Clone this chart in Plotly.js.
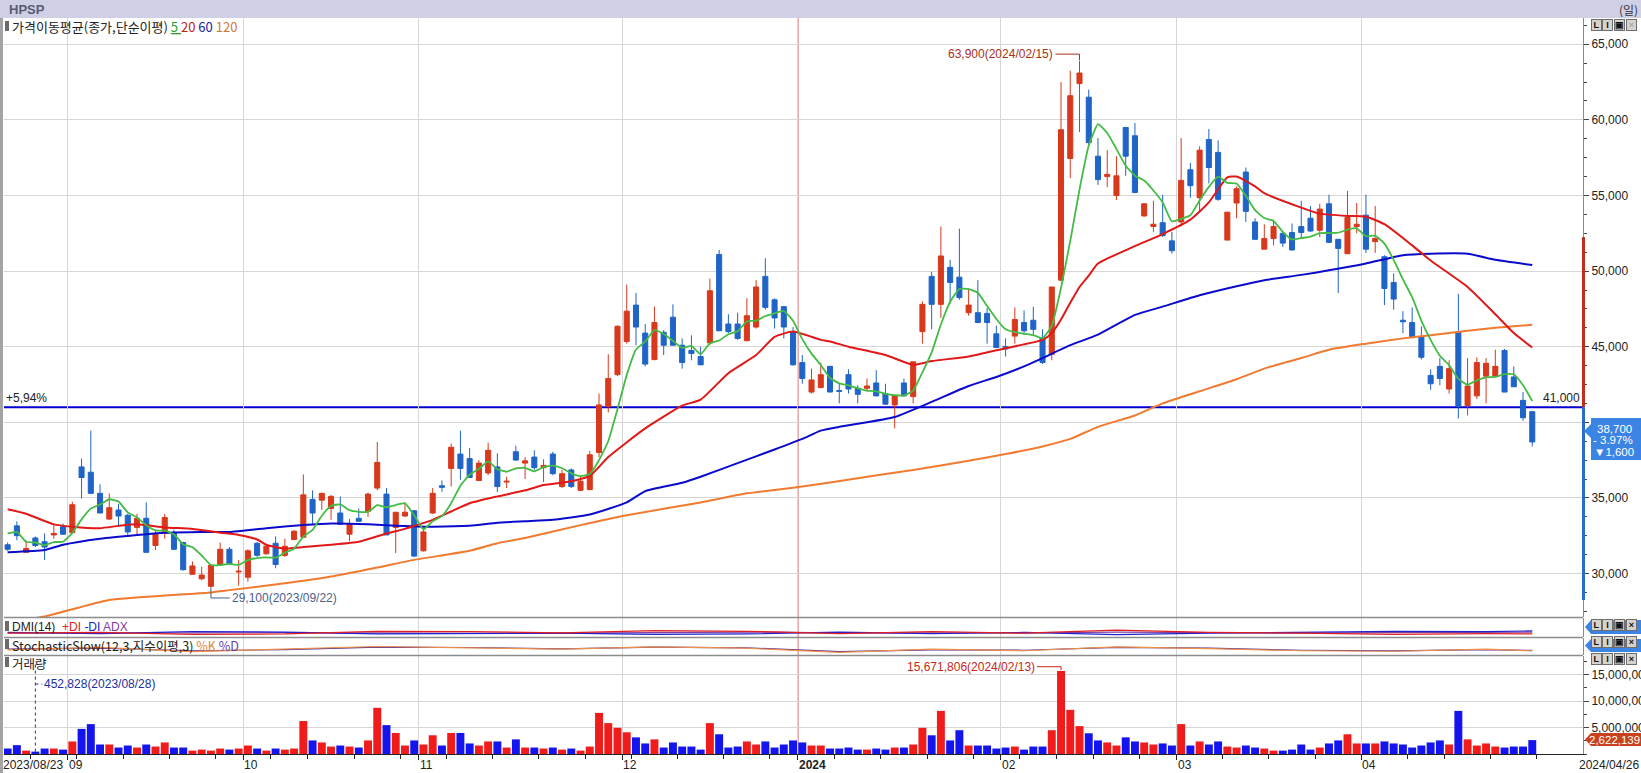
<!DOCTYPE html>
<html><head><meta charset="utf-8">
<script src="https://cdn.plot.ly/plotly-3.0.1.min.js"></script>
<style>html,body{margin:0;padding:0;background:#fff;overflow:hidden}#chart{width:1641px;height:773px}</style>
</head><body><div id="chart"></div>
<script>
// ---------------- DATA ----------------
const stockName = "HPSP";
const firstDate = "2023/08/23";
const lastDate = "2024/04/26";
const monthDays = [7,19,19,22,19,22,19,20,19];            // trading days per month (Aug..Apr)
const monthLabels = ["09","10","11","12","2024","02","03","04"];
const weekStarts = [3,8,13,18,23,26,29,33,38,43,48,53,58,63,68,73,78,83,86,90,95,100,105,110,114,118,123,127,132,137,142,147,152,156,161,166];

const open = [31900,33150,31400,32350,32100,32550,33100,32700,37050,36700,
35300,33600,34200,33850,33050,33650,31850,32650,32700,32050,
29950,29650,29150,30600,31600,30100,29750,32000,31300,32000,
31200,32250,32400,34900,34850,34300,34000,32600,33650,34100,
35650,35250,33050,33800,34150,31500,34000,35800,36950,37900,
37600,36150,36650,37050,36050,38050,37300,37700,37000,37900,
35750,36850,35500,35550,38000,41050,43150,45350,47750,45900,
44150,45950,46950,45100,44750,44350,45250,51100,46500,46500,
45400,46300,49650,48100,47650,46000,43950,42000,42300,43700,
42100,43150,42250,42250,42600,41900,41150,42600,41700,46000,
49650,47800,50250,49600,47250,47250,47200,45850,45000,45700,
46600,46750,45600,44500,49400,57450,62400,61500,57600,56250,
55000,59500,58950,53650,52950,53200,52000,53250,56700,54850,
58700,57850,52050,54500,56550,53250,51450,52150,52500,52550,
52950,53500,52700,54450,52100,51150,52950,53700,51950,50950,
49250,46750,46600,45650,43100,43700,42200,46000,41100,41750,
43050,43050,44750,43000,41450,40700];
const high = [32050,33450,32200,32450,32650,33200,33300,34750,37600,39450,
35900,35300,34600,33950,33950,34700,32900,33950,32900,32100,
30800,30450,30550,32050,31750,30900,31600,32100,31900,32450,
32300,32850,36550,35500,35350,35200,35100,33600,34300,35350,
38700,35650,34050,34650,34200,33000,35650,36150,38600,39450,
38300,37500,38650,37950,36400,38450,37700,38150,37550,38050,
36850,36950,36400,38100,41900,44500,46400,49100,48550,46500,
47650,46100,47800,45550,45750,45000,49500,51400,47150,47250,
48200,49400,50850,48200,47700,46300,44450,43550,43950,43700,
42600,43500,42450,42900,43450,42550,41750,42900,44000,48000,
49950,52950,50750,52800,48850,49400,47550,46400,45550,47600,
47400,47650,46150,48950,62500,63250,63900,62000,58800,58000,
57600,59500,59800,54450,54650,55050,52600,58800,57150,58250,
59400,58650,53900,55600,56850,53500,53100,53400,52600,53150,
54650,54300,54450,55050,52100,55300,54500,55050,54300,51050,
49850,47350,47600,46350,43500,44250,44100,48500,44250,44300,
44250,44800,44850,43700,42000,40700];
const low = [31500,32200,31400,31750,30900,32300,32550,32650,34950,35300,
34000,33550,33100,32550,32550,31400,31550,32300,31550,30200,
29900,29550,29100,30550,30550,29200,29450,31100,31250,30350,
31100,32200,32400,33200,34200,33550,33250,32150,33450,33750,
35500,32550,31350,33750,31100,31450,33950,35400,35750,36200,
36350,36150,36500,35400,35650,37450,36250,36850,36050,36500,
35650,35650,35450,35500,37700,40650,43050,45200,45100,43700,
44100,44450,45100,43550,44100,43800,45100,46050,45900,45450,
45350,46200,47450,46200,45550,43750,42550,41900,42250,42000,
41250,41900,41250,42050,41700,41150,39600,41700,41250,45200,
46150,46900,47850,48100,47050,46550,45200,44900,44350,45200,
45800,45800,43850,44100,49350,56150,59200,58350,55700,55550,
54700,56300,55150,53600,52600,52250,51150,52950,54850,53950,
55800,54650,52050,53500,53250,52100,51450,51700,51600,51350,
52150,52600,52250,51850,48550,51150,52500,51200,51200,47750,
47450,45900,45600,44150,42150,42450,41900,40250,40450,41550,
41250,43050,42000,42350,40100,38400];
const close = [31600,32500,31650,31850,31750,32650,32600,34550,36350,35300,
34000,34350,33800,32750,33650,31400,32650,33700,31600,30250,
30500,29900,30550,31600,30650,30150,31500,31200,31800,30600,
31800,32800,35200,34000,35300,35100,33250,33300,33450,35250,
37350,32550,34050,34050,31150,32750,35300,35700,38350,36950,
36350,37300,38150,35750,36100,37500,37450,37000,37150,36600,
36600,35750,36100,37850,41150,42900,46350,47350,46300,43850,
46600,45100,45100,43950,44550,43800,48700,46050,46000,45550,
47050,48950,47600,46900,46300,43800,42900,42800,43150,42000,
42050,42200,41850,42400,41750,41200,41750,41750,44000,47800,
47800,51000,49250,48250,47750,46600,46600,44950,44850,46800,
46050,46150,43950,48950,59350,61600,63100,58500,56050,56400,
56300,57600,55200,54450,53100,52350,51350,56000,55650,58000,
56850,54750,53900,55450,53950,52100,52150,52950,51850,51400,
52550,52650,54100,51900,51500,53550,53100,51450,52150,48850,
48150,46650,45600,44300,42550,42900,43550,41050,42400,43950,
43900,43700,42000,42350,40300,38700];
const volume = [1030000,1670000,640000,452828,1030000,1030000,830000,2370000,4740000,5640000,
1790000,1790000,1220000,1600000,1220000,1790000,1410000,2180000,1220000,1220000,
640000,830000,640000,1030000,830000,1030000,1600000,1030000,640000,1030000,
830000,1030000,6220000,2560000,2180000,1410000,1600000,1410000,1220000,2560000,
8720000,5450000,3970000,1600000,2560000,1790000,3530000,1600000,3970000,3970000,
1990000,1600000,2370000,2370000,1220000,2760000,1220000,1220000,1030000,1220000,
830000,1030000,640000,1410000,7760000,5830000,4940000,4100000,3140000,1990000,
2760000,1220000,2180000,1410000,1410000,830000,5830000,3720000,1220000,1410000,
2370000,1790000,2370000,1220000,1790000,2560000,2180000,1600000,1600000,1030000,
1030000,1220000,830000,830000,1030000,830000,1220000,1220000,1790000,4940000,
3530000,8140000,2560000,4490000,1600000,1600000,1600000,1030000,1220000,1410000,
830000,1410000,1410000,4490000,15671806,8330000,5260000,3910000,2560000,2180000,
1600000,3140000,2370000,2180000,1790000,1990000,1600000,5640000,1600000,2370000,
1790000,2370000,1410000,1220000,1600000,1220000,1030000,640000,640000,830000,
1790000,830000,1220000,1990000,2560000,3720000,1990000,1990000,1990000,2370000,
1990000,1790000,1220000,1600000,2180000,2560000,1790000,8140000,2760000,1600000,
1990000,1410000,1220000,1410000,1410000,2622139];

const ma5Head = [32650,32750,32100,32050];
const ma20Idx = [0,2,5,7,10,12,14,17,20,23,25,27,28,30,33,35,38,41,43,44,46,48,50,53,56,58,61,63,65,69,73,75,78,81,83,85,88,89,91,95,98,100,104,108,112,113,114,115,116,117,118,122,125,128,130,132,133,135,136,140,142,145,147,149,152,154,158,161,163,165];
const ma20Val = [34250,33950,33250,33100,33000,33150,33250,33050,32950,32700,32550,32250,31900,31650,31800,31900,32100,32650,32950,33150,33550,34100,34650,35100,35500,35850,36100,36450,37700,39600,41100,41500,43250,44450,45650,46000,45450,45350,45000,44450,43800,44050,44350,44900,45450,45900,46800,47900,48950,49700,50500,51650,52450,53400,54550,56200,56250,55600,55150,54200,53800,53650,53600,53100,51700,50700,48950,47150,45900,44950];
const ma60Idx = [0,4,6,10,14,17,21,24,28,32,35,39,42,45,50,53,56,59,63,67,69,73,75,79,83,86,88,90,93,96,100,104,107,110,112,115,118,122,125,129,133,136,140,143,147,151,154,158,161,165];
const ma60Val = [31400,31550,31900,32300,32550,32700,32750,32750,33000,33200,33300,33250,33150,33100,33150,33350,33450,33550,33900,34700,35450,36000,36400,37300,38200,38900,39450,39700,40000,40350,41350,42400,43000,43700,44250,45100,45800,47100,47650,48400,49000,49400,49750,50050,50500,51050,51150,51150,50750,50400];
const ma120Idx = [0,4,11,22,24,30,35,40,44,50,53,56,62,67,75,80,86,92,98,104,108,112,115,118,122,125,129,133,136,140,143,147,151,154,158,161,165];
const ma120Val = [26800,27150,28250,28750,28900,29350,29800,30400,30900,31500,32000,32350,33200,33850,34700,35300,35750,36300,36850,37450,37900,38400,38900,39700,40450,41250,42050,42850,43550,44250,44800,45200,45550,45750,46050,46250,46450];

// squeezed indicator panes (rough readings)
const subIdx = [0,10,20,30,40,50,60,70,80,90,100,110,120,130,140,150,160,165];
const plusDI = [20,24,14,16,30,28,22,34,30,18,28,20,36,24,20,14,18,16];
const minusDI = [24,18,28,26,16,18,20,14,16,26,18,24,12,20,24,30,28,32];
const adx = [22,20,21,23,20,19,20,24,26,22,20,21,26,22,20,23,24,26];
const stochK = [30,45,20,35,50,42,35,48,40,15,35,25,48,38,25,22,35,24];
const stochD = [34,40,24,32,46,44,36,46,42,20,30,28,45,40,28,24,32,27];

const priceTicks = [30000,35000,40000,45000,50000,55000,60000,65000];
const volTicks = [5000000,10000000,15000000];
const refPrice = 41000;
const refPct = "+5,94%";
const lastPct = "- 3.97%";
const lastDiff = 1600;
const axisBandTop = 52250, axisBandBottom = 28250;
const hiIdx = 116, hiVal = 63900, hiDate = "2024/02/15";
const loIdx = 22, loVal = 29100, loDate = "2023/09/22";
const vHiIdx = 114, vHiDate = "2024/02/13";
const vLoIdx = 3, vLoDate = "2023/08/28";

// ---------------- BUILD ----------------
const n = close.length;
const idx = Array.from({length:n}, (_, i) => i);
const ma5 = idx.map(i => i < 4 ? ma5Head[i] : (close[i]+close[i-1]+close[i-2]+close[i-3]+close[i-4])/5);
const fmt = v => v.toLocaleString('en-US');
let cum = 0; const bounds = [];
monthDays.forEach((d, k) => { cum += d; if (k < monthDays.length - 1) bounds.push(cum - 0.5); });

const RED = '#d8381c', BLUE = '#1f64c6';
const VRED = '#f01c1c', VBLUE = '#1414ee';
const NUMF = '"Liberation Sans", Arial, sans-serif';
const KRF = '"Noto Sans CJK KR", "Liberation Sans", sans-serif';

// pixel helpers for paper coords (plot area x 4..1583, y 18..754)
const L = 4, R = 1583, T = 18, B = 754;
const fx = x => (x - L) / (R - L);
const fy = y => (B - y) / (B - T);
const isUp = idx.map(i => close[i] >= open[i]);

const traces = [
  {type:'candlestick', x: idx, open, high, low, close, xaxis:'x', yaxis:'y',
   increasing:{line:{color:RED, width:1}, fillcolor:RED},
   decreasing:{line:{color:BLUE, width:1}, fillcolor:BLUE},
   whiskerwidth:0, hoverinfo:'skip', showlegend:false},
  {type:'scatter', mode:'lines', x: ma120Idx, y: ma120Val, yaxis:'y', line:{color:'#f07a30', width:2, shape:'spline', smoothing:0.5}, hoverinfo:'skip', showlegend:false},
  {type:'scatter', mode:'lines', x: ma60Idx, y: ma60Val, yaxis:'y', line:{color:'#0a0acc', width:2, shape:'spline', smoothing:0.5}, hoverinfo:'skip', showlegend:false},
  {type:'scatter', mode:'lines', x: ma20Idx, y: ma20Val, yaxis:'y', line:{color:'#e01818', width:2, shape:'spline', smoothing:0.5}, hoverinfo:'skip', showlegend:false},
  {type:'scatter', mode:'lines', x: idx, y: ma5, yaxis:'y', line:{color:'#44bb44', width:1.8, shape:'spline', smoothing:0.4}, hoverinfo:'skip', showlegend:false},
  {type:'scatter', mode:'lines', x: subIdx, y: adx, yaxis:'y2', line:{color:'#8040a0', width:1.2}, hoverinfo:'skip', showlegend:false},
  {type:'scatter', mode:'lines', x: subIdx, y: minusDI, yaxis:'y2', line:{color:'#2020d0', width:1.2}, hoverinfo:'skip', showlegend:false},
  {type:'scatter', mode:'lines', x: subIdx, y: plusDI, yaxis:'y2', line:{color:'#e02020', width:1.2}, hoverinfo:'skip', showlegend:false},
  {type:'scatter', mode:'lines', x: subIdx, y: stochD, yaxis:'y3', line:{color:'#5030a0', width:1.2}, hoverinfo:'skip', showlegend:false},
  {type:'scatter', mode:'lines', x: subIdx, y: stochK, yaxis:'y3', line:{color:'#f09048', width:1.2}, hoverinfo:'skip', showlegend:false},
  {type:'bar', x: idx, y: volume, yaxis:'y4', marker:{color: isUp.map(u => u ? VRED : VBLUE), line:{width:0}}, hoverinfo:'skip', showlegend:false}
];

const shapes = [];
const annotations = [];
// header bar
shapes.push({type:'rect', xref:'paper', yref:'paper', x0:fx(0), x1:fx(1641), y0:fy(18), y1:fy(0), fillcolor:'#cfcfe6', line:{width:0}, layer:'above'});
shapes.push({type:'rect', xref:'paper', yref:'paper', x0:fx(0), x1:fx(3), y0:fy(773), y1:fy(18), fillcolor:'#a4a4a4', line:{width:0}, layer:'above'});
// panel separators
[617.5, 637.5, 655.5].forEach(y => shapes.push({type:'line', xref:'paper', yref:'paper', x0:0, x1:1, y0:fy(y), y1:fy(y), line:{color:'#8c8c8c', width:1.5}, layer:'above'}));
// 2024 year divider
shapes.push({type:'line', xref:'x', yref:'paper', x0:bounds[4], x1:bounds[4], y0:0, y1:1, line:{color:'#c00000', width:1.3}, layer:'below'});
// reference price line
shapes.push({type:'line', xref:'paper', yref:'y', x0:0, x1:1, y0:refPrice, y1:refPrice, line:{color:'#0000d2', width:2}, layer:'below'});
// axis colour band
shapes.push({type:'line', xref:'paper', yref:'y', x0:fx(1583.5), x1:fx(1583.5), y0:axisBandTop, y1:refPrice, line:{color:'#c0301a', width:3}, layer:'above'});
shapes.push({type:'line', xref:'paper', yref:'y', x0:fx(1583.5), x1:fx(1583.5), y0:refPrice, y1:axisBandBottom, line:{color:'#2a6cc8', width:3}, layer:'above'});
// high marker
shapes.push({type:'path', xref:'x', yref:'y', path:`M ${hiIdx-2.6},64350 L ${hiIdx},64350 L ${hiIdx},63950`, line:{color:'#a8301c', width:1}});
// low marker
shapes.push({type:'path', xref:'x', yref:'y', path:`M ${loIdx},${loVal} L ${loIdx},28380 L ${loIdx+2.05},28380`, line:{color:'#4b5e8c', width:1}});
// volume high marker
shapes.push({type:'path', xref:'x', yref:'y4', path:`M ${vHiIdx-2.6},16470000 L ${vHiIdx},16470000 L ${vHiIdx},15850000`, line:{color:'#c82818', width:1}});
// volume low marker (dashed)
shapes.push({type:'path', xref:'x', yref:'y4', path:`M ${vLoIdx},${volume[vLoIdx]} L ${vLoIdx},17500000 M ${vLoIdx},13200000 L ${vLoIdx+0.75},13200000`, line:{color:'#2030a0', width:1, dash:'dot'}});
// price tag
shapes.push({type:'path', xref:'paper', yref:'paper', layer:'above',
  path:`M ${fx(1591)},${fy(418)} L ${fx(1641)},${fy(418)} L ${fx(1641)},${fy(460)} L ${fx(1591)},${fy(460)} L ${fx(1591)},${fy(438)} L ${fx(1584)},${fy(431)} L ${fx(1591)},${fy(424)} Z`,
  fillcolor:'#3c84e4', line:{width:0}});
// volume tag
shapes.push({type:'path', xref:'paper', yref:'paper', layer:'above',
  path:`M ${fx(1591)},${fy(733)} L ${fx(1641)},${fy(733)} L ${fx(1641)},${fy(746)} L ${fx(1591)},${fy(746)} L ${fx(1585)},${fy(739.5)} Z`,
  fillcolor:'#c8421e', line:{width:0}});
// small pane tags (DMI / stochastic)
[[620,634],[639,652]].forEach(([a,b]) => shapes.push({type:'path', xref:'paper', yref:'paper', layer:'above',
  path:`M ${fx(1591)},${fy(a)} L ${fx(1641)},${fy(a)} L ${fx(1641)},${fy(b)} L ${fx(1591)},${fy(b)} L ${fx(1585)},${fy((a+b)/2)} Z`,
  fillcolor:'#3c84e4', line:{width:0}}));
// label icons
[26, 626, 644, 662].forEach(y => shapes.push({type:'rect', xref:'paper', yref:'paper', x0:fx(5), x1:fx(9), y0:fy(y+5), y1:fy(y-5), fillcolor:'#6a6a6a', line:{width:0}, layer:'above'}));

const ann = (o) => annotations.push(Object.assign({showarrow:false, xref:'paper', yref:'paper', xanchor:'center', yanchor:'middle',
  font:{family:NUMF, size:12, color:'#222'}}, o));
// header texts
ann({x:fx(7), y:fy(9), xanchor:'left', text:'<b>'+stockName+'</b>', font:{family:NUMF, size:13, color:'#585c72'}});
ann({x:fx(1640), y:fy(9), xanchor:'right', text:'(일)', font:{family:KRF, size:12, color:'#333'}});
// pane labels
ann({x:fx(10), y:fy(26), xanchor:'left', font:{family:KRF, size:13, color:'#222'},
  text:"가격이동평균(종가,단순이평) <span style='color:#2e9e2e;text-decoration:underline'>5 </span><span style='color:#c02020'>20</span> <span style='color:#20209a'>60</span> <span style='color:#d07838'>120</span>"});
ann({x:fx(10), y:fy(627), xanchor:'left', font:{family:NUMF, size:12, color:'#222'},
  text:"DMI(14)  <span style='color:#e02020'>+DI</span> <span style='color:#2020d0'>-DI</span> <span style='color:#8040a0'>ADX</span>"});
ann({x:fx(10), y:fy(645), xanchor:'left', font:{family:KRF, size:12.5, color:'#222'},
  text:"StochasticSlow(12,3,지수이평,3) <span style='color:#e08840'>%K</span> <span style='color:#6040b0'>%D</span>"});
ann({x:fx(10), y:fy(663), xanchor:'left', font:{family:KRF, size:12.5, color:'#222'}, text:"거래량"});
// reference line labels
ann({x:0, y:refPrice, yref:'y', xanchor:'left', yanchor:'bottom', text:refPct});
ann({x:1, y:refPrice, yref:'y', xanchor:'right', yanchor:'bottom', text:fmt(refPrice), xshift:-1});
// markers text
ann({x:hiIdx-2.6, xref:'x', y:64350, yref:'y', xanchor:'right', text:fmt(hiVal)+'('+hiDate+')', font:{family:NUMF, size:12, color:'#a8301c'}});
ann({x:loIdx+2.05, xref:'x', y:28380, yref:'y', xanchor:'left', text:fmt(loVal)+'('+loDate+')', font:{family:NUMF, size:12, color:'#4b5e8c'}});
ann({x:vHiIdx-2.6, xref:'x', y:16470000, yref:'y4', xanchor:'right', text:fmt(volume[vHiIdx])+'('+vHiDate+')', font:{family:NUMF, size:12, color:'#c82818'}});
ann({x:vLoIdx+0.75, xref:'x', y:13200000, yref:'y4', xanchor:'left', text:fmt(volume[vLoIdx])+'('+vLoDate+')', font:{family:NUMF, size:12, color:'#2030a0'}});
// price tag text
ann({x:fx(1614), y:fy(428.5), text:fmt(close[n-1]), font:{family:NUMF, size:11.5, color:'#fff'}});
ann({x:fx(1613), y:fy(440), text:lastPct, font:{family:NUMF, size:11.5, color:'#fff'}});
ann({x:fx(1614), y:fy(451.5), text:'▼'+fmt(lastDiff), font:{family:NUMF, size:11.5, color:'#fff'}});
ann({x:fx(1614), y:fy(739.5), text:fmt(volume[n-1]), font:{family:NUMF, size:11.5, color:'#fff'}});
// x labels
ann({x:0, y:0, xanchor:'left', yanchor:'top', yshift:-2, xshift:-3, text:firstDate});
monthLabels.forEach((t, k) => ann({x:bounds[k], xref:'x', y:0, xanchor:'left', yanchor:'top', yshift:-2, xshift:-1,
  text: t === '2024' ? '<b>'+t+'</b>' : t}));
ann({x:1, y:0, xanchor:'left', yanchor:'top', yshift:-2, xshift:-6, text:lastDate});
// pane buttons
[25, 625, 642, 659].forEach((yc, p) => {
  ['L','I','▣','×'].forEach((ch, k) => ann({x:fx([1596,1607.5,1619,1631][k]), y:fy(yc), text:'<b>'+ch+'</b>',
    bgcolor:'#d6d3cc', bordercolor:'#6e6e6e', borderwidth:1, borderpad:0, width:9, height:10,
    font:{family:NUMF, size:9, color: (p===0 && k===3) ? '#aaa' : '#111'}}));
});

const gridC = '#d6d6d6';
const layout = {
  width:1641, height:773, margin:{l:4, r:58, t:18, b:19, pad:0},
  paper_bgcolor:'#fff', plot_bgcolor:'#fff', showlegend:false, hovermode:false,
  font:{family:NUMF, size:12, color:'#222'},
  boxgap:0.22, bargap:0.14,
  xaxis:{domain:[0,1], range:[-0.394,170.49], anchor:'y4', type:'linear', rangeslider:{visible:false},
    tickmode:'array', tickvals:bounds, showticklabels:false, ticks:'outside', ticklen:5, tickcolor:'#222',
    showgrid:true, gridcolor:gridC, gridwidth:1, showline:true, linecolor:'#222', linewidth:1, zeroline:false,
    minor:{tickmode:'array', tickvals: weekStarts.map(w => w - 0.5), ticks:'outside', ticklen:4, tickcolor:'#222', showgrid:false}},
  yaxis:{domain:[fy(617), 1], range:[27123, 66739], side:'right', anchor:'x',
    tickmode:'array', tickvals:priceTicks, ticktext:priceTicks.map(fmt), ticks:'outside', ticklen:5, tickcolor:'#444',
    showgrid:true, gridcolor:gridC, showline:true, linecolor:'#8a8a8a', linewidth:1, zeroline:false,
    tickfont:{family:NUMF, size:12, color:'#222'},
    minor:{tickmode:'linear', tick0:0, dtick:1250, ticks:'outside', ticklen:3, tickcolor:'#444', showgrid:false}},
  yaxis2:{domain:[fy(637), fy(618)], range:[0,100], side:'right', anchor:'x', showticklabels:false, ticks:'',
    showgrid:false, showline:true, linecolor:'#8a8a8a', zeroline:false},
  yaxis3:{domain:[fy(655), fy(638)], range:[0,100], side:'right', anchor:'x', showticklabels:false, ticks:'',
    showgrid:false, showline:true, linecolor:'#8a8a8a', zeroline:false},
  yaxis4:{domain:[0, fy(656)], range:[0, 18490000], side:'right', anchor:'x',
    tickmode:'array', tickvals:volTicks, ticktext:volTicks.map(fmt), ticks:'outside', ticklen:5, tickcolor:'#444',
    showgrid:true, gridcolor:gridC, showline:true, linecolor:'#8a8a8a', zeroline:false,
    tickfont:{family:NUMF, size:12, color:'#222'},
    minor:{tickmode:'linear', tick0:0, dtick:2500000, ticks:'outside', ticklen:3, tickcolor:'#444', showgrid:false}},
  shapes, annotations
};
Plotly.newPlot('chart', traces, layout, {staticPlot:true, displayModeBar:false});
</script></body></html>
